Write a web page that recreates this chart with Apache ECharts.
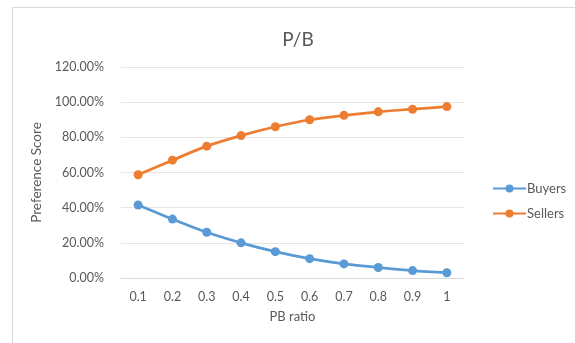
<!DOCTYPE html>
<html>
<head>
<meta charset="utf-8">
<script src="https://cdn.jsdelivr.net/npm/echarts@6/dist/echarts.min.js"></script>
<style>html,body{margin:0;padding:0;background:#fff}#c{width:575px;height:343px}</style>
</head>
<body>
<div id="c"></div>
<script>
const categories = ['0.1','0.2','0.3','0.4','0.5','0.6','0.7','0.8','0.9','1'];
const buyers = [41.5, 33.5, 26, 20, 15, 11, 8, 6, 4.2, 3];
const sellers = [58.7, 67, 75, 81, 86, 90, 92.5, 94.5, 96, 97.5];
const yTicks = [0, 20, 40, 60, 80, 100, 120];

const font = 'Lato, "Open Sans", sans-serif';
const chart = echarts.init(document.getElementById('c'));
chart.setOption({
  backgroundColor: '#fff',
  animation: false,
  graphic: [{
    type: 'rect', shape: {x: 12.5, y: 7.5, width: 600, height: 400},
    style: {fill: 'none', stroke: '#d9d9d9', lineWidth: 1}, silent: true
  }],
  title: {
    text: 'P/B', left: 293, top: 25, textAlign: 'center',
    textStyle: {fontFamily: font, fontSize: 19, fontWeight: 'normal', color: '#595959'}
  },
  legend: {
    orient: 'vertical', left: 487, top: 177, itemGap: 12,
    itemWidth: 33, itemHeight: 10,
    textStyle: {fontFamily: font, fontSize: 13, color: '#595959', padding: [0,0,0,-4]},
    data: ['Buyers', 'Sellers']
  },
  grid: {left: 121, right: 111, top: 67, bottom: 65},
  xAxis: {
    type: 'category', data: categories, boundaryGap: true,
    name: 'PB ratio', nameLocation: 'middle', nameGap: 32,
    nameTextStyle: {fontFamily: font, fontSize: 13, color: '#595959'},
    axisLine: {lineStyle: {color: '#d9d9d9'}},
    axisTick: {show: false},
    axisLabel: {fontFamily: font, fontSize: 12.5, color: '#595959', margin: 12}
  },
  yAxis: {
    type: 'value', min: 0, max: 120, interval: 20,
    name: 'Preference Score', nameLocation: 'middle', nameGap: 71,
    nameTextStyle: {fontFamily: font, fontSize: 13.5, color: '#595959'},
    axisLine: {show: false}, axisTick: {show: false},
    splitLine: {lineStyle: {color: '#e6e6e6'}},
    axisLabel: {fontFamily: font, fontSize: 12.5, color: '#595959', margin: 17,
      formatter: v => yTicks.includes(v) ? v.toFixed(2) + '%' : ''}
  },
  series: [
    {name: 'Buyers', type: 'line', data: buyers, smooth: 0.3,
     symbol: 'circle', symbolSize: 9,
     itemStyle: {color: '#5B9BD5'}, lineStyle: {width: 2.75, color: '#5B9BD5'}},
    {name: 'Sellers', type: 'line', data: sellers, smooth: 0.3,
     symbol: 'circle', symbolSize: 9,
     itemStyle: {color: '#ED7D31'}, lineStyle: {width: 2.75, color: '#ED7D31'}}
  ]
});
</script>
</body>
</html>
